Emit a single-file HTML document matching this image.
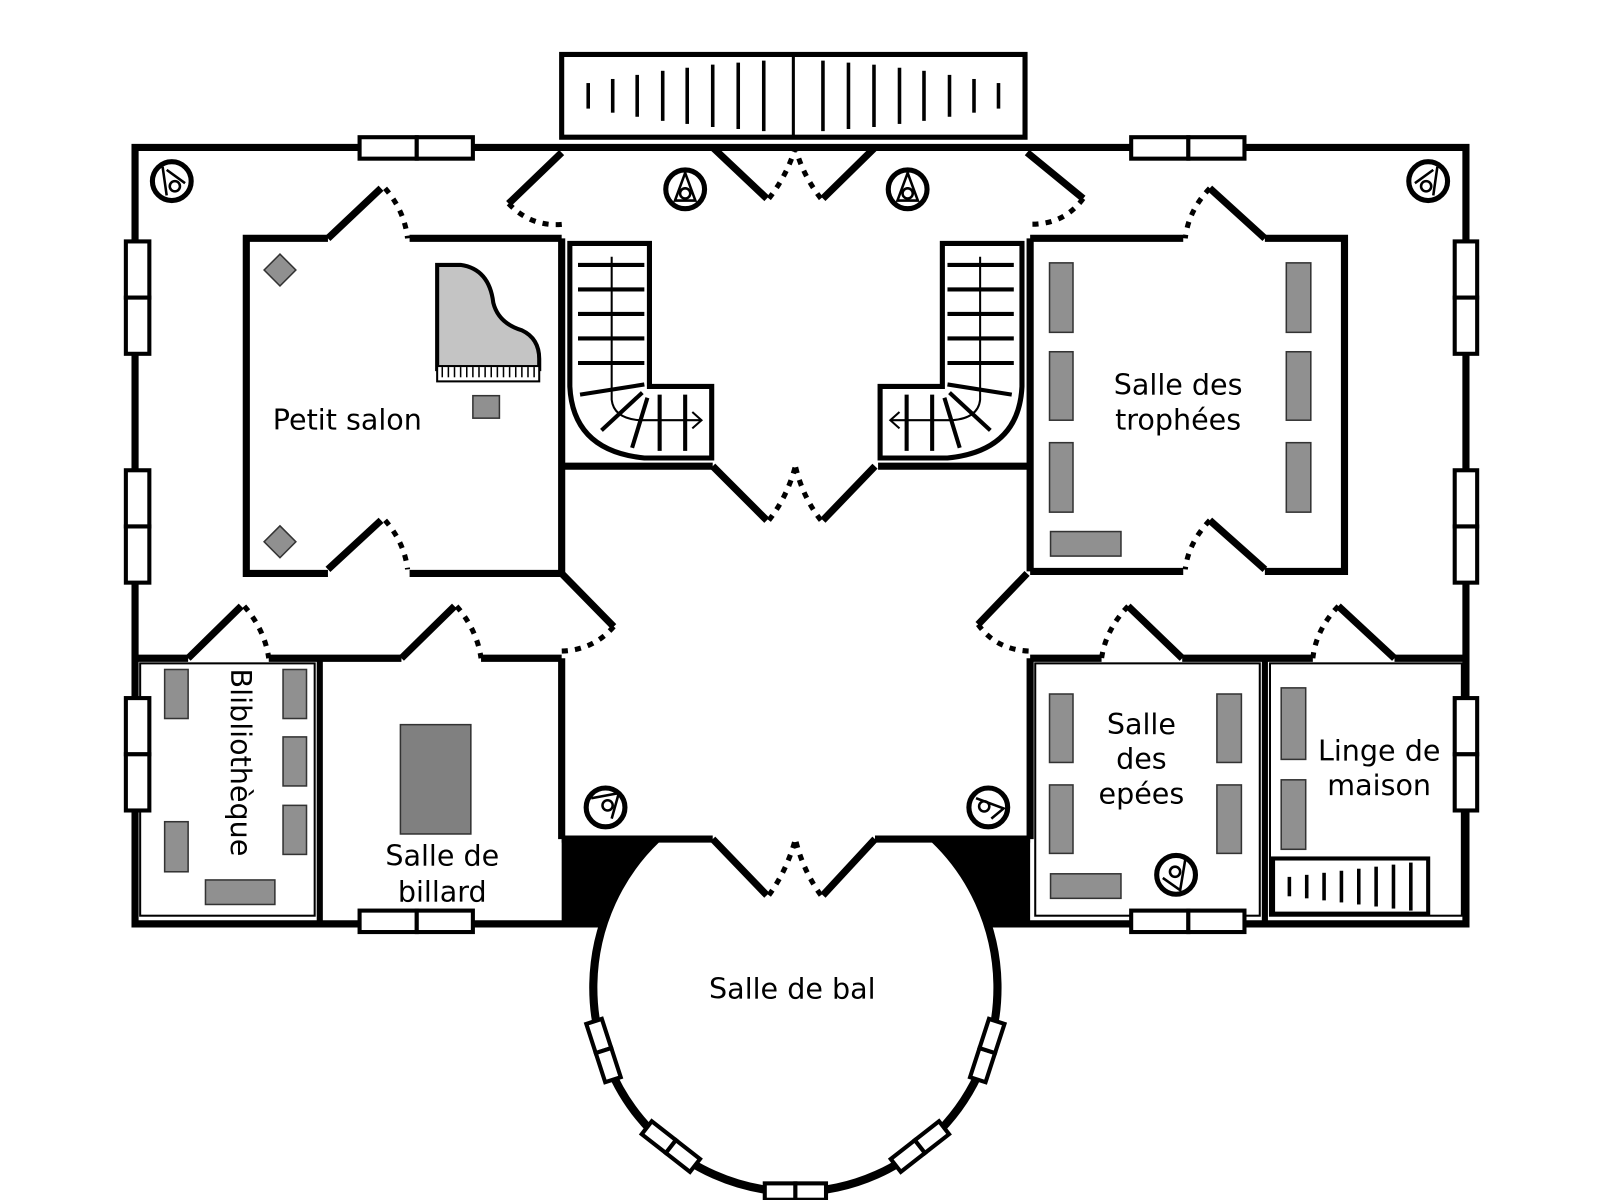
<!DOCTYPE html>
<html><head><meta charset="utf-8"><style>html,body{margin:0;padding:0;background:#fff;}svg{display:block}</style></head><body>
<svg width="1600" height="1200" viewBox="0 0 1552 1164" preserveAspectRatio="none" xmlns="http://www.w3.org/2000/svg">
<rect width="1552" height="1164" fill="#fff"/>
<g transform="translate(131,143) scale(0.99,0.991) translate(-131,-143)">
<path d="M549,820 L642,820 A198,200 0 0 0 590,903 L549,903 Z" fill="#000"/>
<path d="M1008,820 L914,820 A198,200 0 0 1 966,903 L1008,903 Z" fill="#000"/>
<path d="M642,820 A198,200 0 1 0 914,820" fill="none" stroke="#000" stroke-width="8"/>
<g stroke="#000" stroke-width="7" fill="none" stroke-linecap="square">
<polyline points="588,903 131,903 131,143 1435,143 1435,903 968,903"/>
<rect x="549" y="52" width="454" height="81" stroke-width="5" fill="#fff"/>
<line x1="776" y1="52" x2="776" y2="133" stroke-width="3"/>
</g>
<g stroke="#000" stroke-width="3.5">
<line x1="575" y1="80" x2="575" y2="105"/><line x1="599" y1="76" x2="599" y2="109"/><line x1="623" y1="72" x2="623" y2="113"/><line x1="648" y1="68" x2="648" y2="117"/><line x1="672" y1="65" x2="672" y2="120"/><line x1="697" y1="62" x2="697" y2="123"/><line x1="722" y1="60" x2="722" y2="125"/><line x1="747" y1="58" x2="747" y2="127"/>
<line x1="977" y1="80" x2="977" y2="105"/><line x1="953" y1="76" x2="953" y2="109"/><line x1="929" y1="72" x2="929" y2="113"/><line x1="904" y1="68" x2="904" y2="117"/><line x1="880" y1="65" x2="880" y2="120"/><line x1="855" y1="62" x2="855" y2="123"/><line x1="830" y1="60" x2="830" y2="125"/><line x1="805" y1="58" x2="805" y2="127"/>
<line x1="1262" y1="857" x2="1262" y2="876"/><line x1="1279" y1="855" x2="1279" y2="878"/><line x1="1296" y1="853" x2="1296" y2="880"/><line x1="1313" y1="851" x2="1313" y2="882"/><line x1="1330" y1="849" x2="1330" y2="884"/><line x1="1347" y1="847" x2="1347" y2="886"/><line x1="1364" y1="845" x2="1364" y2="888"/><line x1="1381" y1="843" x2="1381" y2="890"/>
</g>
<rect x="1246" y="839" width="152" height="54" fill="none" stroke="#000" stroke-width="4"/>
<g stroke="#000" stroke-width="7" fill="none">
<line x1="549" y1="232" x2="549" y2="560"/><line x1="549" y1="643" x2="549" y2="820"/>
<line x1="1008" y1="232" x2="1008" y2="558"/><line x1="1008" y1="643" x2="1008" y2="820"/>
<line x1="549" y1="455" x2="697" y2="455"/><line x1="859" y1="455" x2="1008" y2="455"/>
<polyline points="320,232 240,232 240,560 320,560"/>
<line x1="400" y1="232" x2="549" y2="232"/><line x1="400" y1="560" x2="549" y2="560"/>
<line x1="320" y1="232" x2="372" y2="183"/><line x1="320" y1="556" x2="372" y2="508"/>
<line x1="1008" y1="232" x2="1158" y2="232"/><polyline points="1238,232 1316,232 1316,558 1238,558"/>
<line x1="1008" y1="558" x2="1158" y2="558"/>
<line x1="1184" y1="183" x2="1238" y2="232"/><line x1="1184" y1="508" x2="1238" y2="556"/>
<line x1="549" y1="148" x2="497" y2="198"/><line x1="697" y1="143" x2="750" y2="193"/>
<line x1="856" y1="143" x2="805" y2="193"/><line x1="1005" y1="148" x2="1060" y2="193"/>
<line x1="697" y1="455" x2="750" y2="508"/><line x1="856" y1="455" x2="805" y2="508"/>
<line x1="549" y1="560" x2="600" y2="612"/><line x1="1005" y1="560" x2="957" y2="610"/>
<line x1="697" y1="820" x2="750" y2="875"/><line x1="856" y1="820" x2="805" y2="875"/>
<line x1="131" y1="643" x2="183" y2="643"/><line x1="183" y1="643" x2="235" y2="592"/>
<line x1="262" y1="643" x2="392" y2="643"/><line x1="392" y1="643" x2="444" y2="592"/>
<line x1="470" y1="643" x2="549" y2="643"/>
<line x1="312" y1="643" x2="312" y2="900" stroke-width="6"/>
<line x1="1008" y1="643" x2="1078" y2="643"/><line x1="1104" y1="592" x2="1157" y2="643"/>
<line x1="1157" y1="643" x2="1285" y2="643"/><line x1="1310" y1="592" x2="1365" y2="643"/>
<line x1="1365" y1="643" x2="1435" y2="643"/>
<line x1="1238" y1="643" x2="1238" y2="900" stroke-width="6"/>
<line x1="549" y1="820" x2="697" y2="820"/><line x1="856" y1="820" x2="1008" y2="820"/>
</g>
<g stroke="#000" stroke-width="2" fill="none">
<rect x="136" y="648" width="171" height="247"/>
<rect x="1013" y="648" width="220" height="247"/>
<rect x="1243" y="648" width="188" height="247"/>
</g>
<g stroke="#000" stroke-width="5" fill="none" stroke-dasharray="6,7">
<path d="M376,183 Q395,205 398,232"/><path d="M376,508 Q395,530 398,556"/>
<path d="M1184,183 Q1163,205 1160,232"/><path d="M1184,508 Q1163,530 1160,556"/>
<path d="M497,198 Q520,222 552,218"/><path d="M1060,193 Q1040,220 1005,218"/>
<path d="M752,193 Q770,170 778,143"/><path d="M803,193 Q785,170 778,143"/>
<path d="M752,508 Q770,485 778,455"/><path d="M803,508 Q785,485 778,455"/>
<path d="M752,875 Q770,850 778,820"/><path d="M803,875 Q785,850 778,820"/>
<path d="M600,612 Q580,635 549,636"/><path d="M957,610 Q975,635 1008,636"/>
<path d="M238,592 Q258,615 262,643"/><path d="M446,592 Q466,615 470,643"/>
<path d="M1104,592 Q1082,615 1078,643"/><path d="M1310,592 Q1288,615 1285,643"/>
</g>
<g fill="#fff" stroke="#000" stroke-width="4">
<rect x="351" y="133" width="56" height="21"/><rect x="407" y="133" width="55" height="21"/>
<rect x="1107" y="133" width="56" height="21"/><rect x="1163" y="133" width="55" height="21"/>
<rect x="351" y="890" width="56" height="21"/><rect x="407" y="890" width="55" height="21"/>
<rect x="1107" y="890" width="56" height="21"/><rect x="1163" y="890" width="55" height="21"/>
<rect x="122" y="235" width="23" height="55"/><rect x="122" y="290" width="23" height="55"/>
<rect x="122" y="459" width="23" height="55"/><rect x="122" y="514" width="23" height="55"/>
<rect x="122" y="682" width="23" height="55"/><rect x="122" y="737" width="23" height="55"/>
<rect x="1424" y="235" width="22" height="55"/><rect x="1424" y="290" width="22" height="55"/>
<rect x="1424" y="459" width="22" height="55"/><rect x="1424" y="514" width="22" height="55"/>
<rect x="1424" y="682" width="22" height="55"/><rect x="1424" y="737" width="22" height="55"/>
<rect x="748" y="1157" width="30" height="16"/><rect x="778" y="1157" width="30" height="16"/>
<g transform="rotate(72 590 1027)"><rect x="560" y="1019" width="30" height="16"/><rect x="590" y="1019" width="30" height="16"/></g>
<g transform="rotate(-72 966 1027)"><rect x="936" y="1019" width="30" height="16"/><rect x="966" y="1019" width="30" height="16"/></g>
<g transform="rotate(38 656 1121)"><rect x="626" y="1113" width="30" height="16"/><rect x="656" y="1113" width="30" height="16"/></g>
<g transform="rotate(-38 900 1121)"><rect x="870" y="1113" width="30" height="16"/><rect x="900" y="1113" width="30" height="16"/></g>
</g>
<g stroke="#000" fill="none">
<path d="M557,237 L635,237 L635,377 L696,377 L696,447 L630,447 Q560,440 557,377 Z" stroke-width="5" fill="#fff"/>
<g stroke-width="4"><line x1="565" y1="258" x2="630" y2="258"/><line x1="565" y1="282" x2="630" y2="282"/><line x1="565" y1="306" x2="630" y2="306"/><line x1="565" y1="330" x2="630" y2="330"/><line x1="565" y1="354" x2="630" y2="354"/><line x1="567" y1="385" x2="630" y2="375"/><line x1="645" y1="385" x2="645" y2="440"/><line x1="670" y1="385" x2="670" y2="440"/><line x1="633" y1="388" x2="618" y2="437"/><line x1="628" y1="383" x2="588" y2="420"/></g>
<path d="M598,250 L598,390 Q600,408 625,410 L685,410" stroke-width="2"/><path d="M677,402 L686,410 L677,418" stroke-width="2"/>
<path d="M1000,237 L922,237 L922,377 L861,377 L861,447 L927,447 Q997,440 1000,377 Z" stroke-width="5" fill="#fff"/>
<g stroke-width="4"><line x1="992" y1="258" x2="927" y2="258"/><line x1="992" y1="282" x2="927" y2="282"/><line x1="992" y1="306" x2="927" y2="306"/><line x1="992" y1="330" x2="927" y2="330"/><line x1="992" y1="354" x2="927" y2="354"/><line x1="990" y1="385" x2="927" y2="375"/><line x1="912" y1="385" x2="912" y2="440"/><line x1="887" y1="385" x2="887" y2="440"/><line x1="924" y1="388" x2="939" y2="437"/><line x1="929" y1="383" x2="969" y2="420"/></g>
<path d="M959,250 L959,390 Q957,408 932,410 L872,410" stroke-width="2"/><path d="M880,402 L871,410 L880,418" stroke-width="2"/>
</g>
<g stroke="#000" fill="#fff">
<g stroke-width="5"><circle cx="167" cy="176" r="19"/><circle cx="670" cy="184" r="19"/><circle cx="888" cy="184" r="19"/><circle cx="1398" cy="176" r="19"/><circle cx="592" cy="789" r="19"/><circle cx="967" cy="789" r="19"/><circle cx="1151" cy="855" r="19"/></g>
<g stroke-width="2.5" fill="none">
<path d="M158,162 L162,190 M162,165 L180,178"/><circle cx="170" cy="181" r="5"/>
<path d="M670,168 L660,195 L680,195 Z"/><circle cx="670" cy="188" r="5"/>
<path d="M888,168 L878,195 L898,195 Z"/><circle cx="888" cy="188" r="5"/>
<path d="M1407,162 L1403,190 M1403,165 L1385,178"/><circle cx="1396" cy="181" r="5"/>
<path d="M578,780 L605,775 L598,800"/><circle cx="594" cy="787" r="5"/>
<path d="M955,780 L982,790 L970,800"/><circle cx="963" cy="788" r="5"/>
<path d="M1160,840 L1155,870 L1138,858"/><circle cx="1150" cy="852" r="5"/>
</g></g>
<g fill="#909090" stroke="#333" stroke-width="1.5">
<rect x="1027" y="256" width="23" height="68"/><rect x="1027" y="343" width="23" height="67"/><rect x="1027" y="432" width="23" height="68"/>
<rect x="1259" y="256" width="24" height="68"/><rect x="1259" y="343" width="24" height="67"/><rect x="1259" y="432" width="24" height="68"/>
<rect x="1028" y="519" width="69" height="24"/>
<rect x="1027" y="678" width="23" height="67"/><rect x="1027" y="767" width="23" height="67"/>
<rect x="1191" y="678" width="24" height="67"/><rect x="1191" y="767" width="24" height="67"/>
<rect x="1028" y="854" width="69" height="24"/>
<rect x="1254" y="672" width="24" height="70"/><rect x="1254" y="762" width="24" height="68"/>
<rect x="160" y="654" width="23" height="48"/><rect x="160" y="803" width="23" height="49"/>
<rect x="276" y="654" width="23" height="48"/><rect x="276" y="720" width="23" height="48"/><rect x="276" y="787" width="23" height="48"/>
<rect x="200" y="860" width="68" height="24"/>
<rect x="391" y="708" width="69" height="107" fill="#808080"/>
<rect x="462" y="386" width="26" height="22"/>
<rect x="262" y="252" width="22" height="22" transform="rotate(45 273 263)"/>
<rect x="262" y="518" width="22" height="22" transform="rotate(45 273 529)"/>
</g>
<path d="M427,258 L450,258 Q478,262 482,295 Q487,315 510,322 Q527,330 527,350 L527,360 L427,360 Z" fill="#c4c4c4" stroke="#000" stroke-width="4"/>
<rect x="427" y="357" width="100" height="15" fill="#fff" stroke="#000" stroke-width="2"/>
<g stroke="#000" stroke-width="1.5"><line x1="432" y1="358" x2="432" y2="368"/><line x1="438" y1="358" x2="438" y2="368"/><line x1="444" y1="358" x2="444" y2="368"/><line x1="450" y1="358" x2="450" y2="368"/><line x1="456" y1="358" x2="456" y2="368"/><line x1="462" y1="358" x2="462" y2="368"/><line x1="468" y1="358" x2="468" y2="368"/><line x1="474" y1="358" x2="474" y2="368"/><line x1="480" y1="358" x2="480" y2="368"/><line x1="486" y1="358" x2="486" y2="368"/><line x1="492" y1="358" x2="492" y2="368"/><line x1="498" y1="358" x2="498" y2="368"/><line x1="504" y1="358" x2="504" y2="368"/><line x1="510" y1="358" x2="510" y2="368"/><line x1="516" y1="358" x2="516" y2="368"/><line x1="522" y1="358" x2="522" y2="368"/></g>
<g font-family="DejaVu Sans, Liberation Sans, sans-serif" font-size="28" fill="#000" text-anchor="middle">
<text x="339" y="419">Petit salon</text>
<text x="1153" y="385">Salle des</text><text x="1153" y="419">trophées</text>
<text x="1117" y="717">Salle</text><text x="1117" y="751">des</text><text x="1117" y="785">epées</text>
<text x="1350" y="743">Linge de</text><text x="1350" y="777">maison</text>
<text x="432" y="846">Salle de</text><text x="432" y="881">billard</text>
<text x="775" y="976">Salle de bal</text>
<text x="0" y="0" transform="translate(225,745) rotate(90)">Blibliothèque</text>
</g>
</g>
</svg>
</body></html>
